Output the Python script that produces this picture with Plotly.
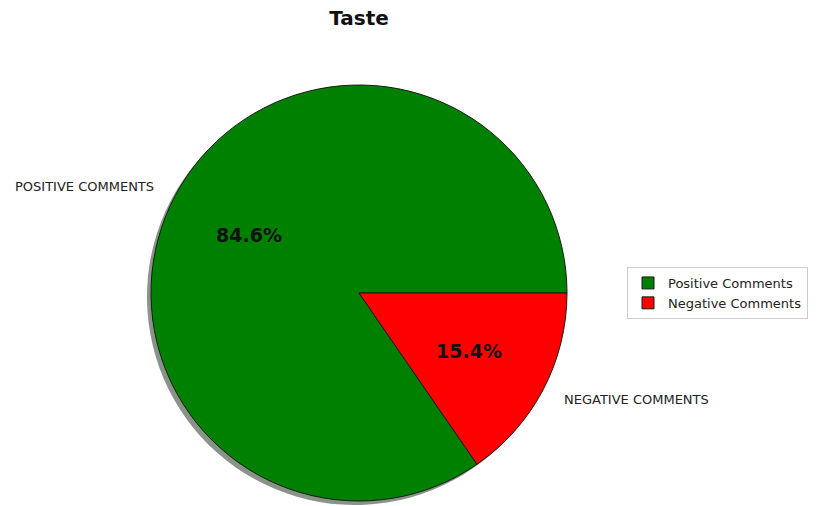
import math
import plotly.graph_objects as go

# ---- data ----
categories = ["Positive Comments", "Negative Comments"]
outer_labels = ["POSITIVE COMMENTS", "NEGATIVE COMMENTS"]
values = [84.6, 15.4]
colors = ["#008000", "#ff0000"]
title_text = "Taste"

W, H = 817, 506
# pie placement in pixels
cx_px, cy_px, r_px = 359, 293, 208
dom_x = [(cx_px - r_px) / W, (cx_px + r_px) / W]
dom_y = [1 - (cy_px + r_px) / H, 1 - (cy_px - r_px) / H]
sh = 4  # shadow offset px
sdom_x = [dom_x[0] - sh / W, dom_x[1] - sh / W]
sdom_y = [max(0.0, dom_y[0] - sh / H), dom_y[1] - sh / H]

total = sum(values)
# plotly counterclockwise mode lays the first slice clockwise from `rotation`;
# shift so that the first slice starts at 3 o'clock going counterclockwise (matplotlib style)
rot = 90 - 360 * values[0] / total

fig = go.Figure()
# shadow
fig.add_trace(go.Pie(
    values=values, labels=categories, sort=False, direction="counterclockwise", rotation=rot,
    marker=dict(colors=["rgba(40,60,40,0.55)", "rgba(60,40,40,0.55)"], line=dict(width=0)),
    textinfo="none", hoverinfo="skip", showlegend=False,
    domain=dict(x=sdom_x, y=sdom_y),
))
fig.add_trace(go.Pie(
    values=values, labels=categories, sort=False, direction="counterclockwise", rotation=rot,
    marker=dict(colors=colors, line=dict(color="#1a1a1a", width=1)),
    textinfo="none", showlegend=True,
    domain=dict(x=dom_x, y=dom_y),
))

# labels computed from data (matplotlib style: start at 0 deg, counterclockwise)
start = 0.0
anns = []
cxp = (dom_x[0] + dom_x[1]) / 2
cyp = (dom_y[0] + dom_y[1]) / 2
for lab, v in zip(outer_labels, values):
    ang = start + 360 * v / total / 2
    start += 360 * v / total
    a = math.radians(ang)
    # percent at 0.6 r
    anns.append(dict(
        x=cxp + 0.6 * r_px * math.cos(a) / W, y=cyp + 0.6 * r_px * math.sin(a) / H,
        xref="paper", yref="paper", text=f"<b>{v/total*100:.1f}%</b>", showarrow=False,
        font=dict(family="DejaVu Sans", size=19, color="#111111"), xanchor="center", yanchor="middle",
    ))
    # outer label at 1.1 r
    anns.append(dict(
        x=cxp + 1.1 * r_px * math.cos(a) / W, y=cyp + 1.1 * r_px * math.sin(a) / H,
        xref="paper", yref="paper", text=lab, showarrow=False,
        font=dict(family="DejaVu Sans", size=13, color="#222222"),
        xanchor="right" if math.cos(a) < 0 else "left", yanchor="middle",
    ))

fig.update_layout(
    width=W, height=H,
    margin=dict(l=0, r=0, t=0, b=0),
    paper_bgcolor="white", plot_bgcolor="white",
    title=dict(text=f"<b>{title_text}</b>", x=cx_px / W, xanchor="center", y=1 - 18 / H, yanchor="middle",
               font=dict(family="DejaVu Sans", size=20, color="#111111")),
    legend=dict(x=627 / W, y=1 - 267 / H, xanchor="left", yanchor="top",
                bordercolor="#cccccc", borderwidth=1, bgcolor="white",
                font=dict(family="DejaVu Sans", size=13, color="#222222"),
                traceorder="normal", itemclick=False, tracegroupgap=0),
    annotations=anns,
)

fig.write_html("out.html")
